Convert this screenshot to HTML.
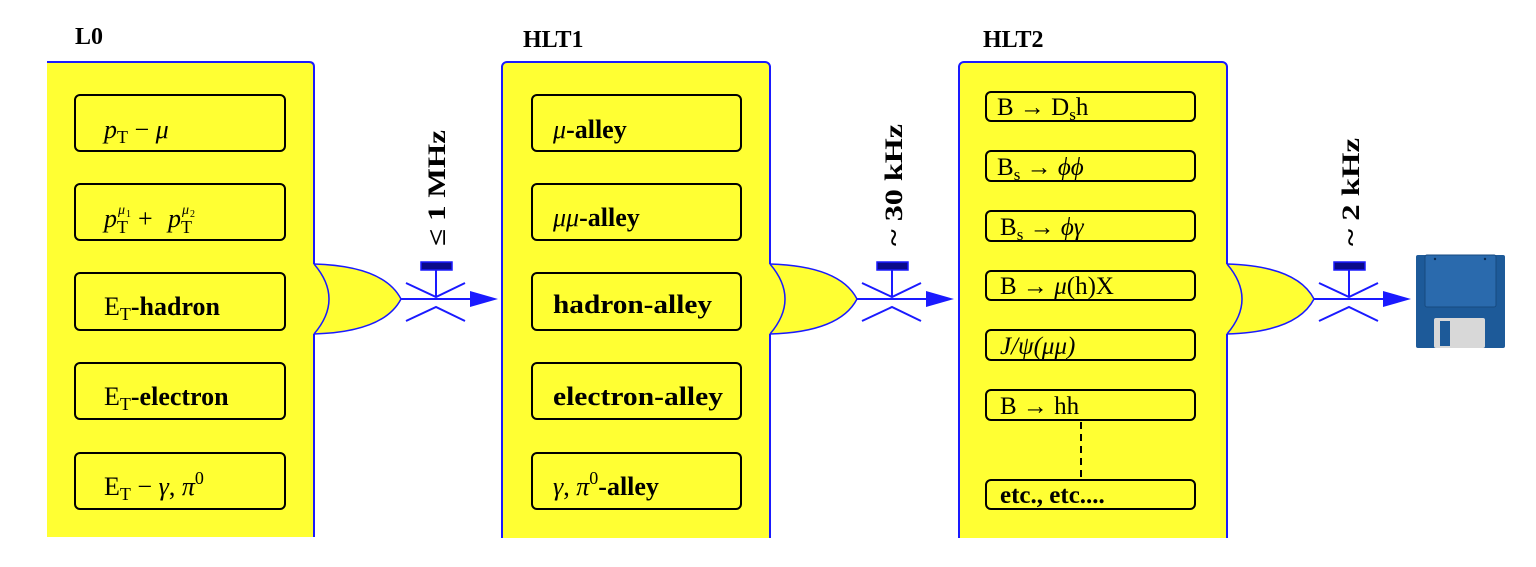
<!DOCTYPE html>
<html><head><meta charset="utf-8"><style>
html,body{margin:0;padding:0;background:#fff;}
svg{display:block;}
text{font-family:"Liberation Serif",serif;fill:#000;}
.b{font-weight:bold;}
.i{font-style:italic;}
</style></head><body>
<svg width="1536" height="567" viewBox="0 0 1536 567" xmlns="http://www.w3.org/2000/svg">
<defs>
<g id="gate">
  <path d="M-2,264 Q70,266 87,299 Q70,332 -2,334 Z" fill="#ffff33"/>
  <path d="M0,264 Q70,266 87,299 Q70,332 0,334" fill="none" stroke="#1a1aff" stroke-width="1.5"/>
  <path d="M0,264 Q30,299 0,334" fill="none" stroke="#1a1aff" stroke-width="1.5"/>
  <line x1="87" y1="299" x2="160" y2="299" stroke="#1a1aff" stroke-width="2"/>
  <polygon points="156,291 184,299 156,307" fill="#1a1aff"/>
  <polyline points="92,283 122,297 151,283" fill="none" stroke="#1a1aff" stroke-width="2"/>
  <polyline points="92,321 122,307 151,321" fill="none" stroke="#1a1aff" stroke-width="2"/>
  <line x1="122" y1="270" x2="122" y2="297" stroke="#1a1aff" stroke-width="2"/>
  <rect x="107" y="262" width="31" height="8" fill="#0a0a8a" stroke="#1a1aff" stroke-width="1.5"/>
</g>
</defs>
<path d="M47,62 H309 Q314,62 314,67 V537 H47 Z" fill="#ffff33"/>
<path d="M47,62 H309 Q314,62 314,67 V537" fill="none" stroke="#1a1aff" stroke-width="2"/>
<rect x="502" y="62" width="268" height="490" rx="5" fill="#ffff33" stroke="#1a1aff" stroke-width="2"/>
<rect x="959" y="62" width="268" height="490" rx="5" fill="#ffff33" stroke="#1a1aff" stroke-width="2"/>
<rect x="0" y="538" width="1536" height="29" fill="#fff"/>
<text x="75" y="44" class="b" font-size="24">L0</text>
<text x="523" y="47" class="b" font-size="24">HLT1</text>
<text x="983" y="47" class="b" font-size="24">HLT2</text>
<g fill="none" stroke="#000" stroke-width="2">
<rect x="75" y="95" width="210" height="56" rx="5"/>
<rect x="75" y="184" width="210" height="56" rx="5"/>
<rect x="75" y="273" width="210" height="57" rx="5"/>
<rect x="75" y="363" width="210" height="56" rx="5"/>
<rect x="75" y="453" width="210" height="56" rx="5"/>
<rect x="532" y="95" width="209" height="56" rx="5"/>
<rect x="532" y="184" width="209" height="56" rx="5"/>
<rect x="532" y="273" width="209" height="57" rx="5"/>
<rect x="532" y="363" width="209" height="56" rx="5"/>
<rect x="532" y="453" width="209" height="56" rx="5"/>
<rect x="986" y="92" width="209" height="29" rx="5"/>
<rect x="986" y="151" width="209" height="30" rx="5"/>
<rect x="986" y="211" width="209" height="30" rx="5"/>
<rect x="986" y="271" width="209" height="29" rx="5"/>
<rect x="986" y="330" width="209" height="30" rx="5"/>
<rect x="986" y="390" width="209" height="30" rx="5"/>
<rect x="986" y="480" width="209" height="29" rx="5"/>
<line x1="1081" y1="422" x2="1081" y2="480" stroke-dasharray="7,5"/>
</g>
<g font-size="26">
<text x="104" y="138"><tspan class="i">p</tspan><tspan font-size="18" dy="5">T</tspan><tspan dy="-5"> − </tspan><tspan class="i">μ</tspan></text>
<text x="104" y="227" class="i">p</text><text x="117" y="233" font-size="18">T</text><text x="118" y="214" font-size="14" class="i">μ</text><text x="126" y="217" font-size="10">1</text>
<text x="138" y="227"> + </text><text x="168" y="227" class="i">p</text><text x="181" y="233" font-size="18">T</text><text x="182" y="214" font-size="14" class="i">μ</text><text x="190" y="217" font-size="10">2</text>
<text x="104" y="315">E<tspan font-size="18" dy="5">T</tspan><tspan dy="-5" class="b">-hadron</tspan></text>
<text x="104" y="405">E<tspan font-size="18" dy="5">T</tspan><tspan dy="-5" class="b">-electron</tspan></text>
<text x="104" y="495">E<tspan font-size="18" dy="5">T</tspan><tspan dy="-5"> − </tspan><tspan class="i">γ</tspan>,  <tspan class="i">π</tspan><tspan font-size="18" dy="-11">0</tspan></text>
<text x="553" y="138"><tspan class="i">μ</tspan><tspan class="b">-alley</tspan></text>
<text x="553" y="226"><tspan class="i">μμ</tspan><tspan class="b">-alley</tspan></text>
<text x="553" y="313" class="b" textLength="159" lengthAdjust="spacingAndGlyphs">hadron-alley</text>
<text x="553" y="405" class="b" textLength="170" lengthAdjust="spacingAndGlyphs">electron-alley</text>
<text x="553" y="495"><tspan class="i">γ</tspan>,  <tspan class="i">π</tspan><tspan font-size="18" dy="-11">0</tspan><tspan dy="11" class="b">-alley</tspan></text>
</g>
<g font-size="25">
<text x="997" y="115">B → D<tspan font-size="17" dy="5">s</tspan><tspan dy="-5">h</tspan></text>
<text x="997" y="175">B<tspan font-size="17" dy="5">s</tspan><tspan dy="-5"> → </tspan><tspan class="i">ϕϕ</tspan></text>
<text x="1000" y="235">B<tspan font-size="17" dy="5">s</tspan><tspan dy="-5"> → </tspan><tspan class="i">ϕγ</tspan></text>
<text x="1000" y="294">B → <tspan class="i">μ</tspan>(h)X</text>
<text x="1000" y="354" class="i">J/ψ(μμ)</text>
<text x="1000" y="414">B → hh</text>
<text x="1000" y="503" class="b">etc., etc....</text>
</g>
<use href="#gate" x="314"/>
<use href="#gate" x="770"/>
<use href="#gate" x="1227"/>
<g font-size="25" class="b">
<text transform="translate(445,246) rotate(-90)" textLength="116" lengthAdjust="spacingAndGlyphs">≤ 1 MHz</text>
<text transform="translate(902,246) rotate(-90)" textLength="122" lengthAdjust="spacingAndGlyphs">~ 30 kHz</text>
<text transform="translate(1359,246) rotate(-90)" textLength="108" lengthAdjust="spacingAndGlyphs">~ 2 kHz</text>
</g>
<g>
<rect x="1416" y="255" width="89" height="93" rx="2" fill="#1d5a99"/>
<rect x="1425" y="255" width="71" height="52" rx="2" fill="#2a6aad" stroke="#174a80"/>
<rect x="1434" y="318" width="51" height="30" rx="2" fill="#d8d8d8"/>
<rect x="1440" y="321" width="10" height="25" fill="#1d5a99"/>
<circle cx="1435" cy="259" r="1.2" fill="#0a2a50"/><circle cx="1485" cy="259" r="1.2" fill="#0a2a50"/>
</g>
</svg>
</body></html>
